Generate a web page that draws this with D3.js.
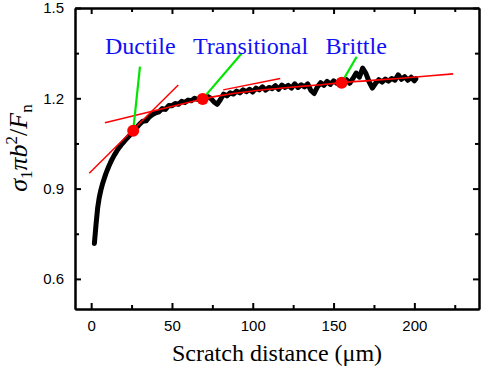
<!DOCTYPE html>
<html>
<head>
<meta charset="utf-8">
<script src="https://cdn.jsdelivr.net/npm/d3@7"></script>
<style>
  body { margin: 0; background: #fff; }
  #chart svg { display: block; }
</style>
</head>
<body>
<div id="chart"></div>
<script>
// Scratch ratio chart

// measured curve (distance in um, ratio)
var distance = [2,3,4,5,6,7,8,9,10,11,12,13,14,15,16,17,18,19,20,21,22,23,24,25,26,27,28,29,30,
  32,34,36,38,40,42,44,46,48,50,52,54,56,58,60,62,64,66,68,70,72,74,76,78,80,82,84,86,88,90,
  92,94,96,98,100,102,104,106,108,110,112,114,116,118,120,122,124,126,128,130,132,134,136,138,140,
  142,144,146,148,150,152,154,156,158,160,162,164,166,168,170,172,174,176,178,180,182,184,186,188,190,
  192,194,196,198,200,201];
var ratio = [0.718,0.78,0.835,0.87,0.895,0.915,0.932,0.948,0.962,0.975,0.987,0.998,1.008,1.017,1.026,1.034,1.041,1.048,1.054,1.06,1.066,1.072,1.078,1.084,1.09,1.096,1.102,1.108,1.114,
  1.124,1.125,1.138,1.146,1.152,1.155,1.166,1.163,1.176,1.175,1.183,1.18,1.19,1.186,1.194,1.192,1.2,1.196,1.201,1.198,1.206,1.2,1.188,1.18,1.196,1.214,1.208,1.218,1.214,1.224,
  1.218,1.228,1.222,1.23,1.221,1.234,1.228,1.238,1.227,1.236,1.232,1.242,1.23,1.244,1.236,1.243,1.234,1.248,1.236,1.245,1.238,1.248,1.226,1.216,1.238,
  1.252,1.243,1.256,1.246,1.258,1.25,1.255,1.251,1.262,1.25,1.266,1.284,1.27,1.3,1.283,1.255,1.234,1.25,1.262,1.254,1.264,1.257,1.266,1.26,1.278,
  1.263,1.272,1.26,1.27,1.258,1.265];

// red fitted curve
var fitX = [69,80,100,120,140,155,170,190,210,224];
var fitY = [1.198,1.209,1.224,1.235,1.244,1.252,1.258,1.266,1.275,1.281];

// red tangent lines [x0, y0, x1, y1]
var tangents = [
  [-1.2, 0.951, 53.9, 1.244],
  [8.5, 1.119, 69, 1.198],
  [81.7, 1.228, 117, 1.266]
];

// regime markers
var regimes = ["Ductile", "Transitional", "Brittle"];
var markX = [26, 69, 155];
var markY = [1.092, 1.198, 1.252];
var labelX = [8.5, 63, 145];
var labelY = [1.347, 1.347, 1.347];
var pointerX = [30.2, 93.1, 164.3];
var pointerY = [1.305, 1.349, 1.338];

var xMajor = [0, 50, 100, 150, 200];
var xMinor = [25, 75, 125, 175, 225];
var yMajor = [0.6, 0.9, 1.2, 1.5];
var yMinor = [0.75, 1.05, 1.35];

var W = 484, H = 369;
var margin = { top: 8, right: 5, bottom: 60, left: 75 };
var width = W - margin.left - margin.right,
    height = H - margin.top - margin.bottom;

var svg = d3.select("#chart").append("svg")
    .attr("width", W)
    .attr("height", H);

var g = svg.append("g")
    .attr("transform", "translate(" + margin.left + "," + margin.top + ")");

var xScale = d3.scaleLinear().domain([-10, 240]).range([0, width]);
var yScale = d3.scaleLinear().domain([0.5, 1.5]).range([height, 0]);

// axes with inward ticks on all four sides
function styleAxis(sel) {
  sel.selectAll("path").attr("stroke-width", 2);
  sel.selectAll("line").attr("stroke-width", 2);
  sel.selectAll("text")
      .attr("font-family", "Liberation Sans, Arial, sans-serif")
      .attr("font-size", "15px")
      .attr("fill", "#000");
}

g.append("g").attr("transform", "translate(0," + height + ")")
  .call(d3.axisBottom(xScale).tickValues(xMajor).tickSize(-6).tickSizeOuter(0).tickPadding(11).tickFormat(d3.format("d")))
  .call(styleAxis);
g.append("g").attr("transform", "translate(0," + height + ")")
  .call(d3.axisBottom(xScale).tickValues(xMinor).tickSize(-4).tickSizeOuter(0).tickFormat(""))
  .call(styleAxis);
g.append("g")
  .call(d3.axisTop(xScale).tickValues(xMajor).tickSize(-6).tickSizeOuter(0).tickFormat(""))
  .call(styleAxis);
g.append("g")
  .call(d3.axisTop(xScale).tickValues(xMinor).tickSize(-4).tickSizeOuter(0).tickFormat(""))
  .call(styleAxis);

g.append("g")
  .call(d3.axisLeft(yScale).tickValues(yMajor).tickSize(-6).tickSizeOuter(0).tickPadding(11).tickFormat(d3.format(".1f")))
  .call(styleAxis);
g.append("g")
  .call(d3.axisLeft(yScale).tickValues(yMinor).tickSize(-4).tickSizeOuter(0).tickFormat(""))
  .call(styleAxis);
g.append("g").attr("transform", "translate(" + width + ",0)")
  .call(d3.axisRight(yScale).tickValues(yMajor).tickSize(-6).tickSizeOuter(0).tickFormat(""))
  .call(styleAxis);
g.append("g").attr("transform", "translate(" + width + ",0)")
  .call(d3.axisRight(yScale).tickValues(yMinor).tickSize(-4).tickSizeOuter(0).tickFormat(""))
  .call(styleAxis);

// data curve
var pts = distance.map(function (d, i) { return [d, ratio[i]]; });
var line = d3.line()
    .x(function (d) { return xScale(d[0]); })
    .y(function (d) { return yScale(d[1]); });

g.append("path")
    .datum(pts)
    .attr("d", line)
    .attr("fill", "none")
    .attr("stroke", "#000")
    .attr("stroke-width", 5)
    .attr("stroke-linejoin", "round")
    .attr("stroke-linecap", "round");

// red fit + tangents
var fitPts = fitX.map(function (d, i) { return [d, fitY[i]]; });
g.append("path")
    .datum(fitPts)
    .attr("d", line.curve(d3.curveMonotoneX))
    .attr("fill", "none")
    .attr("stroke", "#ff0000")
    .attr("stroke-width", 1.6);
line.curve(d3.curveLinear);

g.selectAll("line.tangent")
    .data(tangents)
    .enter().append("line")
    .attr("class", "tangent")
    .attr("x1", function (d) { return xScale(d[0]); })
    .attr("y1", function (d) { return yScale(d[1]); })
    .attr("x2", function (d) { return xScale(d[2]); })
    .attr("y2", function (d) { return yScale(d[3]); })
    .attr("stroke", "#ff0000")
    .attr("stroke-width", 1.5);

// green pointers
g.selectAll("line.pointer")
    .data(regimes)
    .enter().append("line")
    .attr("class", "pointer")
    .attr("x1", function (d, i) { return xScale(pointerX[i]); })
    .attr("y1", function (d, i) { return yScale(pointerY[i]); })
    .attr("x2", function (d, i) { return xScale(markX[i]); })
    .attr("y2", function (d, i) { return yScale(markY[i]); })
    .attr("stroke", "#00e600")
    .attr("stroke-width", 2.2);

// red dots
g.selectAll("circle.mark")
    .data(regimes)
    .enter().append("circle")
    .attr("class", "mark")
    .attr("cx", function (d, i) { return xScale(markX[i]); })
    .attr("cy", function (d, i) { return yScale(markY[i]); })
    .attr("r", 6)
    .attr("fill", "#ff0000");

// regime labels
g.selectAll("text.regime")
    .data(regimes)
    .enter().append("text")
    .attr("class", "regime")
    .attr("x", function (d, i) { return xScale(labelX[i]); })
    .attr("y", function (d, i) { return yScale(labelY[i]); })
    .attr("font-family", "Liberation Serif, Times New Roman, serif")
    .attr("font-size", "24px")
    .attr("fill", "#1010f5")
    .text(function (d) { return d; });

// axis titles
svg.append("text")
    .attr("x", margin.left + width / 2)
    .attr("y", 361)
    .attr("text-anchor", "middle")
    .attr("font-family", "Liberation Serif, Times New Roman, serif")
    .attr("font-size", "24px")
    .text("Scratch distance (\u03bcm)");

var yt = svg.append("text")
    .attr("transform", "translate(27,148) rotate(-90)")
    .attr("text-anchor", "middle")
    .attr("font-family", "Liberation Serif, Times New Roman, serif")
    .attr("font-size", "26px");
yt.append("tspan").attr("font-style", "italic").text("\u03c3");
yt.append("tspan").attr("font-size", "17px").attr("dy", 5).text("1");
yt.append("tspan").attr("font-style", "italic").attr("dy", -5).text("\u03c0b");
yt.append("tspan").attr("font-size", "17px").attr("dy", -10).text("2");
yt.append("tspan").attr("dy", 10).text("/");
yt.append("tspan").attr("font-style", "italic").text("F");
yt.append("tspan").attr("font-size", "17px").attr("dy", 5).text("n");
</script>
</body>
</html>
